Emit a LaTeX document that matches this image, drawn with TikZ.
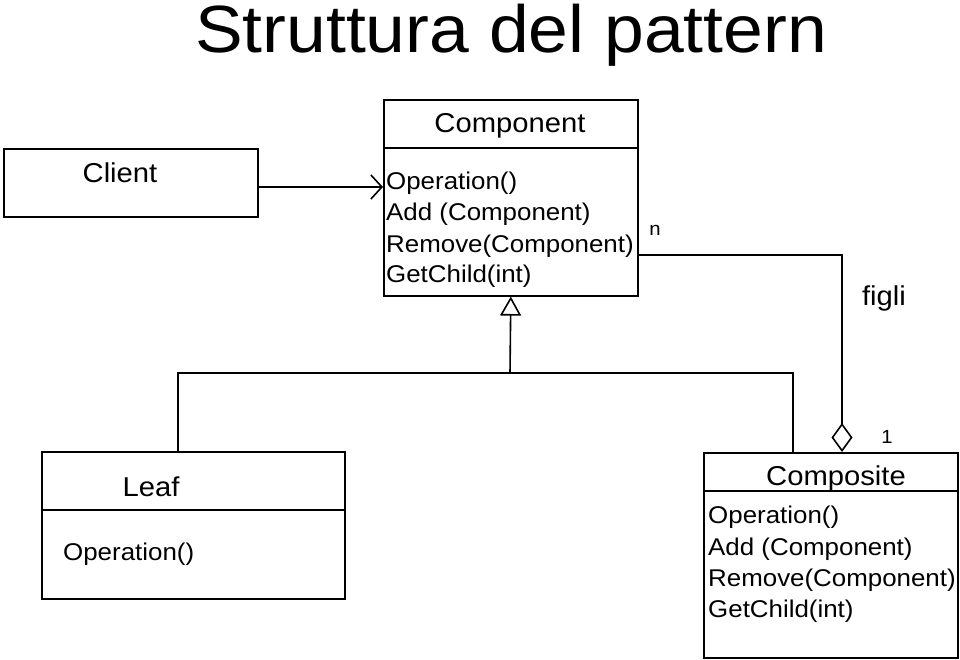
\documentclass[tikz,border=0pt]{standalone}
\usepackage{fontspec}
\setmainfont{Liberation Sans}[FakeStretch=1.07]
\usetikzlibrary{arrows.meta}
\tikzset{
  ln/.style={line width=1.6pt, black},
  cls/.style={draw, ln, rectangle, inner sep=0pt, anchor=north west},
  titletxt/.style={inner sep=0pt, anchor=base, font=\fontsize{27.3}{30}\selectfont},
  optxt/.style={inner sep=0pt, anchor=base west, font=\fontsize{24.2}{28}\selectfont},
  smalltxt/.style={inner sep=0pt, anchor=base, font=\fontsize{19}{22}\selectfont},
  usearrow/.style={-{Straight Barb[length=11pt,width=24pt,line width=1.6pt]}},
  genarrow/.style={-{Triangle[open,length=19pt,width=21pt,line width=1.6pt]}},
  aggarrow/.style={-{Diamond[open,length=29pt,width=21pt,line width=1.6pt]}},
}
\begin{document}
\begin{tikzpicture}[x=1pt,y=-1pt]
\useasboundingbox (0,0) rectangle (960,660);
% title
\node[inner sep=0pt, anchor=base, font=\fontsize{66.8}{70}\selectfont] (title) at (511,53) {Struttura del pattern};

% Client
\node[cls, minimum width=254pt, minimum height=68pt] (client) at (3,148) {};
\node[titletxt] (clientt) at (120,183) {Client};

% Component
\node[cls, minimum width=254pt, minimum height=196pt] (comp) at (383,99) {};
\draw[ln] (383,148) -- (637,148);
\node[titletxt] (compt) at (510,133) {Component};
\node[optxt] (co1) at (386,190) {Operation()};
\node[optxt] (co2) at (386,221) {Add (Component)};
\node[optxt] (co3) at (386,252) {Remove(Component)};
\node[optxt] (co4) at (386,282) {GetChild(int)};

% Leaf
\node[cls, minimum width=303pt, minimum height=147pt] (leaf) at (41,451) {};
\draw[ln] (41,510) -- (344,510);
\node[titletxt] (leaft) at (151,496) {Leaf};
\node[optxt] (lo1) at (63,560) {Operation()};

% Composite
\node[cls, minimum width=254pt, minimum height=205pt] (compo) at (703,452) {};
\draw[ln] (703,491) -- (957,491);
\node[titletxt] (compot) at (836,485) {Composite};
\node[optxt] (po1) at (708,523) {Operation()};
\node[optxt] (po2) at (708,555) {Add (Component)};
\node[optxt] (po3) at (708,586) {Remove(Component)};
\node[optxt] (po4) at (708,617) {GetChild(int)};

% labels
\node[smalltxt] (nlab) at (655,236) {n};
\node[titletxt] (figli) at (884,305) {figli};
\node[smalltxt] (one) at (887,443) {1};

% coordinates
\coordinate (ua) at (257,187);
\coordinate (leafc) at (178,451);
\coordinate (compoc) at (793,452);
\coordinate (junc) at (510,373);
\coordinate (aggs) at (637,255);
\coordinate (aggc) at (842,452);

% connectors
\draw[ln, usearrow] (client.east |- ua) -- (comp.west |- ua);
\draw[ln] (leafc) |- (junc) -| (compoc);
\draw[ln, genarrow] (junc) -- (comp.south);
\draw[ln, aggarrow] (aggs) -| (aggc);
\end{tikzpicture}
\end{document}
